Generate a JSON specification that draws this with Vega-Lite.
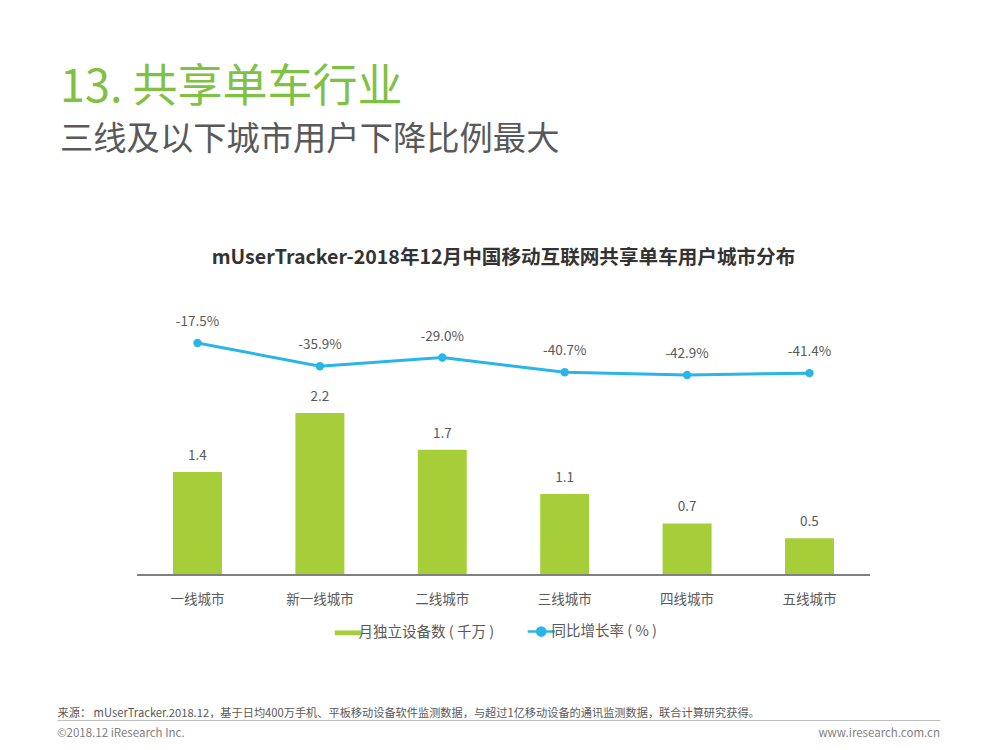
{
  "$schema": "https://vega.github.io/schema/vega-lite/v6.json",
  "background": "#ffffff",
  "padding": {"left": 57, "top": 66, "right": 10, "bottom": 0},
  "title": {
    "text": "13. 共享单车行业",
    "subtitle": "三线及以下城市用户下降比例最大",
    "anchor": "start",
    "frame": "bounds",
    "dx": 3,
    "font": "Noto Sans CJK SC",
    "fontSize": 45,
    "fontWeight": "normal",
    "color": "#7fc143",
    "subtitleFont": "Noto Sans CJK SC",
    "subtitleFontSize": 33.3,
    "subtitleColor": "#595959",
    "subtitlePadding": 13,
    "offset": 92
  },
  "spacing": 66,
  "resolve": {"scale": {"color": "independent"}, "legend": {"color": "independent"}},
  "vconcat": [
    {
      "title": {
        "text": "mUserTracker-2018年12月中国移动互联网共享单车用户城市分布",
        "font": "Noto Sans CJK SC",
        "fontSize": 19.6,
        "fontWeight": "bold",
        "color": "#333333",
        "anchor": "middle",
        "frame": "group",
        "dx": 5,
        "offset": 31
      },
      "width": 883,
      "height": 275,
      "data": {
        "values": [
          {"city": "一线城市", "users": 1.4, "rate": -17.5, "rateLabel": "-17.5%"},
          {"city": "新一线城市", "users": 2.2, "rate": -35.9, "rateLabel": "-35.9%"},
          {"city": "二线城市", "users": 1.7, "rate": -29.0, "rateLabel": "-29.0%"},
          {"city": "三线城市", "users": 1.1, "rate": -40.7, "rateLabel": "-40.7%"},
          {"city": "四线城市", "users": 0.7, "rate": -42.9, "rateLabel": "-42.9%"},
          {"city": "五线城市", "users": 0.5, "rate": -41.4, "rateLabel": "-41.4%"}
        ]
      },
      "encoding": {
        "x": {
          "field": "city",
          "type": "nominal",
          "sort": null,
          "scale": {"paddingInner": 0.6, "paddingOuter": 0.907, "align": 0.5225},
          "axis": {
            "title": null,
            "ticks": false,
            "domain": false,
            "labelAngle": 0,
            "labelFont": "Noto Sans CJK SC",
            "labelFontSize": 13.5,
            "labelColor": "#595959",
            "labelPadding": 17,
            "grid": false
          }
        }
      },
      "layer": [
        {
          "mark": {"type": "bar"},
          "encoding": {
            "y": {
              "field": "users",
              "type": "quantitative",
              "scale": {"domain": [0, 3.736], "nice": false, "zero": true},
              "axis": null
            },
            "color": {
              "datum": "月独立设备数 ( 千万 )",
              "type": "nominal",
              "scale": {
                "domain": ["月独立设备数 ( 千万 )", "同比增长率 ( % )"],
                "range": ["#a6ce39", "#29b5e8"]
              },
              "legend": {
                "orient": "bottom",
                "direction": "horizontal",
                "title": null,
                "offset": 18,
                "labelFont": "Noto Sans CJK SC",
                "labelFontSize": 14.5,
                "labelColor": "#595959",
                "labelLimit": 400,
                "labelOffset": 3,
                "symbolSize": 729,
                "columnPadding": 27,
                "encode": {
                  "symbols": {
                    "update": {
                      "shape": {"signal": "datum.value === '同比增长率 ( % )' ? 'M-1,0H1M-0.3,0A0.3,0.3,0,1,1,0.3,0A0.3,0.3,0,1,1,-0.3,0Z' : 'M-1,-0.18H1V0.18H-1Z'"},
                      "strokeWidth": {"signal": "datum.value === '同比增长率 ( % )' ? 2.5 : 0"},
                      "fill": {"signal": "datum.value === '同比增长率 ( % )' ? '#29b5e8' : '#a6ce39'"},
                      "stroke": {"signal": "datum.value === '同比增长率 ( % )' ? '#29b5e8' : '#a6ce39'"},
                      "opacity": {"value": 1},
                      "fillOpacity": {"value": 1},
                      "strokeOpacity": {"value": 1}
                    }
                  }
                }
              }
            }
          }
        },
        {
          "mark": {"type": "rule", "color": "#7f7f7f", "strokeWidth": 1},
          "encoding": {
            "x": {"datum": "一线城市", "bandPosition": -0.735},
            "x2": {"datum": "五线城市", "bandPosition": 1.735},
            "y": {"datum": 0, "type": "quantitative", "scale": {"domain": [0, 3.736], "nice": false, "zero": true}, "axis": null}
          }
        },
        {
          "mark": {"type": "text", "dy": -16, "font": "Noto Sans CJK SC", "fontSize": 13.5, "color": "#595959"},
          "encoding": {
            "y": {"field": "users", "type": "quantitative", "scale": {"domain": [0, 3.736], "nice": false, "zero": true}, "axis": null},
            "text": {"field": "users", "type": "quantitative", "format": ".1f"}
          }
        },
        {
          "mark": {"type": "line", "strokeWidth": 3, "point": {"filled": true, "size": 70}},
          "encoding": {
            "y": {"field": "rate", "type": "quantitative", "scale": {"domain": [-201.6, 16.63], "nice": false, "zero": false}, "axis": null},
            "color": {"datum": "同比增长率 ( % )", "type": "nominal"}
          }
        },
        {
          "mark": {"type": "text", "dy": -21, "font": "Noto Sans CJK SC", "fontSize": 13.5, "color": "#595959"},
          "encoding": {
            "y": {"field": "rate", "type": "quantitative", "scale": {"domain": [-201.6, 16.63], "nice": false, "zero": false}, "axis": null},
            "text": {"field": "rateLabel", "type": "nominal"}
          }
        }
      ],
      "resolve": {"scale": {"y": "independent"}, "axis": {"y": "independent"}}
    },
    {
      "width": 883,
      "height": 28,
      "data": {
        "values": [
          {"part": "copyright", "text": "©2018.12 iResearch Inc."},
          {"part": "website", "text": "www.iresearch.com.cn"}
        ]
      },
      "encoding": {
        "x": {
          "field": "part",
          "type": "nominal",
          "scale": {"type": "point", "padding": 0, "domain": ["copyright", "website"]},
          "axis": {
            "orient": "top",
            "labels": false,
            "ticks": false,
            "grid": false,
            "domain": true,
            "domainColor": "#bfbfbf",
            "domainWidth": 1,
            "title": "来源： mUserTracker.2018.12，基于日均400万手机、平板移动设备软件监测数据，与超过1亿移动设备的通讯监测数据，联合计算研究获得。",
            "titleAnchor": "start",
            "titleFont": "Noto Sans CJK SC",
            "titleFontSize": 11.2,
            "titleFontWeight": "normal",
            "titleColor": "#595959",
            "titlePadding": 2
          }
        },
        "text": {"field": "text", "type": "nominal"}
      },
      "layer": [
        {
          "transform": [{"filter": "datum.part === 'copyright'"}],
          "mark": {"type": "text", "align": "left", "font": "Noto Sans CJK SC", "fontSize": 11.5, "color": "#7f7f7f"}
        },
        {
          "transform": [{"filter": "datum.part === 'website'"}],
          "mark": {"type": "text", "align": "right", "font": "Noto Sans CJK SC", "fontSize": 11.5, "color": "#7f7f7f"}
        }
      ]
    }
  ],
  "config": {
    "view": {"stroke": null},
    "font": "Noto Sans CJK SC",
    "legend": {"layout": {"bottom": {"anchor": "middle"}}}
  }
}
